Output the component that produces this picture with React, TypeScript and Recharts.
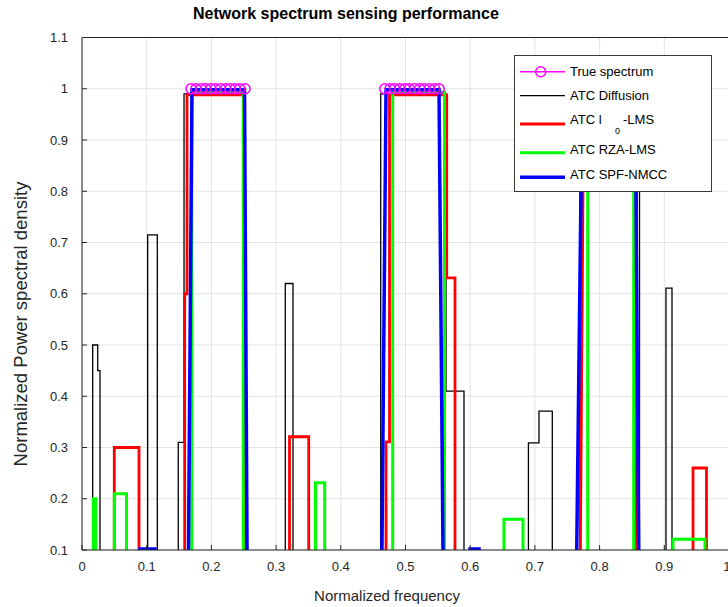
import React from "react";
import { LineChart, Line, XAxis, YAxis, CartesianGrid, Legend } from "recharts";

const FONT = '"Liberation Sans", Arial, Helvetica, sans-serif';
const AXIS = "#262626";

const xTicks = [0, 0.1, 0.2, 0.3, 0.4, 0.5, 0.6, 0.7, 0.8, 0.9, 1];
const yTicks = [0.1, 0.2, 0.3, 0.4, 0.5, 0.6, 0.7, 0.8, 0.9, 1, 1.1];

// true occupied bands (null breaks the line between bands)
const trueFreq = [
  0.1685, 0.176, 0.184, 0.191, 0.199, 0.206, 0.214, 0.222, 0.229, 0.237, 0.244, 0.252, 0.26,
  0.468, 0.476, 0.483, 0.491, 0.499, 0.506, 0.514, 0.522, 0.529, 0.537, 0.545, 0.552, 0.56,
  0.7735, 0.781, 0.789, 0.797, 0.804, 0.812, 0.82, 0.827, 0.835, 0.843, 0.85, 0.858,
];
const truePsd = [
  1, 1, 1, 1, 1, 1, 1, 1, 1, 1, 1, 1, null,
  1, 1, 1, 1, 1, 1, 1, 1, 1, 1, 1, 1, null,
  1, 1, 1, 1, 1, 1, 1, 1, 1, 1, 1, 1,
];

// ATC Diffusion
const diffFreq = [
  0, 0.0165, 0.0165, 0.0243, 0.0243, 0.0278, 0.0278, 0.1015, 0.1015, 0.1164, 0.1164,
  0.1488, 0.1488, 0.1577, 0.1577, 0.2519, 0.2519, 0.3142, 0.3142, 0.3261, 0.3261,
  0.4617, 0.4617, 0.5626, 0.5626, 0.5904, 0.5904, 0.69, 0.69, 0.7063, 0.7063, 0.7269, 0.7269,
  0.7697, 0.7697, 0.8617, 0.8617, 0.9026, 0.9026, 0.9119, 0.9119, 1,
];
const diffPsd = [
  0, 0, 0.5, 0.5, 0.45, 0.45, 0, 0, 0.715, 0.715, 0,
  0, 0.31, 0.31, 0.99, 0.99, 0, 0, 0.62, 0.62, 0,
  0, 0.99, 0.99, 0.41, 0.41, 0, 0, 0.309, 0.309, 0.371, 0.371, 0,
  0, 0.99, 0.99, 0, 0, 0.611, 0.611, 0, 0,
];

// ATC l0-LMS
const l0Freq = [
  0, 0.0499, 0.0499, 0.0881, 0.0881, 0.1587, 0.1587, 0.1623, 0.1623, 0.2504, 0.2504,
  0.3207, 0.3207, 0.3504, 0.3504, 0.4699, 0.4699, 0.4753, 0.4753, 0.5637, 0.5637, 0.5765, 0.5765,
  0.7697, 0.7754, 0.857, 0.857, 0.9444, 0.9444, 0.9652, 0.9652, 1,
];
const l0Psd = [
  0, 0, 0.3, 0.3, 0, 0, 0.6, 0.6, 0.988, 0.988, 0,
  0, 0.321, 0.321, 0, 0, 0.311, 0.311, 0.988, 0.988, 0.631, 0.631, 0,
  0, 0.988, 0.988, 0, 0, 0.26, 0.26, 0, 0,
];

// ATC RZA-LMS
const rzaFreq = [
  0, 0.0175, 0.0175, 0.0213, 0.0213, 0.0499, 0.0499, 0.0688, 0.0688,
  0.1696, 0.1696, 0.2493, 0.2493, 0.3609, 0.3609, 0.3751, 0.3751,
  0.4802, 0.4802, 0.5603, 0.5603, 0.6522, 0.6522, 0.6816, 0.6816,
  0.7816, 0.7816, 0.8527, 0.8527, 0.9134, 0.9134, 0.9629, 0.9629, 1,
];
const rzaPsd = [
  0, 0, 0.2, 0.2, 0, 0, 0.21, 0.21, 0,
  0, 0.993, 0.993, 0, 0, 0.231, 0.231, 0,
  0, 0.993, 0.993, 0, 0, 0.16, 0.16, 0,
  0, 0.993, 0.993, 0, 0, 0.121, 0.121, 0, 0,
];

// ATC SPF-NMCC
const spfFreq = [
  0, 0.0896, 0.0896, 0.1128, 0.1128, 0.164, 0.17, 0.2512, 0.2555,
  0.4629, 0.4699, 0.5518, 0.5586, 0.5997, 0.5997, 0.6136, 0.6136,
  0.7637, 0.7731, 0.855, 0.861, 1,
];
const spfPsd = [
  0, 0, 0.102, 0.102, 0, 0, 0.998, 0.998, 0,
  0, 0.998, 0.998, 0, 0, 0.102, 0.102, 0,
  0, 0.998, 0.998, 0, 0,
];

const toPoints = (freq: number[], psd: (number | null)[]) =>
  freq.map((f, i) => ({ f, v: psd[i] }));

const trueData = toPoints(trueFreq, truePsd);
const diffData = toPoints(diffFreq, diffPsd);
const l0Data = toPoints(l0Freq, l0Psd);
const rzaData = toPoints(rzaFreq, rzaPsd);
const spfData = toPoints(spfFreq, spfPsd);

const LegendBox = () => (
  <svg width={198} height={137} style={{ display: "block" }}>
    <rect x={0.5} y={0.5} width={197} height={136} fill="#fff" stroke="#3a3a3a" strokeWidth={1} />
    <g fontFamily={FONT} fontSize={13} fill="#000">
      <line x1={6} x2={51} y1={16.7} y2={16.7} stroke="#ff00ff" strokeWidth={1.5} />
      <circle cx={26.7} cy={16.7} r={5} fill="none" stroke="#ff00ff" strokeWidth={1.5} />
      <text x={56} y={20.5}>True spectrum</text>

      <line x1={6} x2={51} y1={40.7} y2={40.7} stroke="#000" strokeWidth={1.3} />
      <text x={56} y={45.3}>ATC Diffusion</text>

      <line x1={6} x2={51} y1={69} y2={69} stroke="#ff0000" strokeWidth={3} />
      <text x={56} y={68.6}>ATC l</text>
      <text x={101} y={78.5} fontSize={9}>0</text>
      <text x={109} y={68.6}>-LMS</text>

      <line x1={6} x2={51} y1={97.7} y2={97.7} stroke="#00ff00" strokeWidth={3} />
      <text x={56} y={99}>ATC RZA-LMS</text>

      <line x1={6} x2={51} y1={122.3} y2={122.3} stroke="#0000ff" strokeWidth={3.5} />
      <text x={56} y={124}>ATC SPF-NMCC</text>
    </g>
  </svg>
);

export default function App() {
  return (
    <div
      style={{
        position: "absolute",
        left: 0,
        top: 0,
        width: 728,
        height: 607,
        overflow: "hidden",
        background: "#fff",
      }}
    >
      <LineChart
        width={730}
        height={607}
        margin={{ top: 36.5, right: 0, bottom: 27, left: 22 }}
      >
        <CartesianGrid stroke="#e3e3e3" strokeWidth={1} />
        <XAxis
          type="number"
          dataKey="f"
          domain={[0, 1]}
          ticks={xTicks}
          allowDataOverflow
          height={30}
          tickSize={-5}
          tickMargin={16.5}
          stroke={AXIS}
          tick={{ fill: AXIS, fontSize: 13, fontFamily: FONT }}
        />
        <XAxis
          xAxisId="top"
          orientation="top"
          type="number"
          domain={[0, 1]}
          ticks={xTicks}
          height={1}
          tickSize={-5}
          tick={false}
          stroke={AXIS}
        />
        <YAxis
          type="number"
          domain={[0.1, 1.1]}
          ticks={yTicks}
          allowDataOverflow
          width={60}
          tickSize={-5}
          tickMargin={19}
          stroke={AXIS}
          tick={{ fill: AXIS, fontSize: 13, fontFamily: FONT }}
        />
        <YAxis
          yAxisId="right"
          orientation="right"
          type="number"
          domain={[0.1, 1.1]}
          ticks={yTicks}
          width={1}
          tickSize={-5}
          tick={false}
          stroke={AXIS}
        />
        <Line
          data={trueData}
          dataKey="v"
          name="True spectrum"
          stroke="#ff00ff"
          strokeWidth={1.5}
          dot={{ r: 5, stroke: "#ff00ff", strokeWidth: 1.5, fill: "none" }}
          activeDot={false}
          isAnimationActive={false}
        />
        <Line
          data={diffData}
          dataKey="v"
          name="ATC Diffusion"
          stroke="#000000"
          strokeWidth={1.3}
          dot={false}
          activeDot={false}
          isAnimationActive={false}
        />
        <Line
          data={l0Data}
          dataKey="v"
          name="ATC l0-LMS"
          stroke="#ff0000"
          strokeWidth={2.8}
          dot={false}
          activeDot={false}
          isAnimationActive={false}
        />
        <Line
          data={rzaData}
          dataKey="v"
          name="ATC RZA-LMS"
          stroke="#00ff00"
          strokeWidth={3}
          dot={false}
          activeDot={false}
          isAnimationActive={false}
        />
        <Line
          data={spfData}
          dataKey="v"
          name="ATC SPF-NMCC"
          stroke="#0000ff"
          strokeWidth={3.5}
          dot={false}
          activeDot={false}
          isAnimationActive={false}
        />
        <Legend
          layout="vertical"
          align="center"
          verticalAlign="middle"
          content={() => <LegendBox />}
          wrapperStyle={{ left: 514, top: 55, width: 198, height: 137 }}
        />
      </LineChart>
      <svg
        width={728}
        height={607}
        style={{ position: "absolute", left: 0, top: 0, pointerEvents: "none" }}
      >
        <text x={193} y={18.5} fontFamily={FONT} fontSize={16} fontWeight="bold" fill="#000">
          Network spectrum sensing performance
        </text>
        <text x={387} y={601} textAnchor="middle" fontFamily={FONT} fontSize={15} fill={AXIS}>
          Normalized frequency
        </text>
        <text
          x={26.5}
          y={324}
          textAnchor="middle"
          transform="rotate(-90 26.5 324)"
          fontFamily={FONT}
          fontSize={18.5}
          fill={AXIS}
        >
          Normalized Power spectral density
        </text>
      </svg>
    </div>
  );
}
